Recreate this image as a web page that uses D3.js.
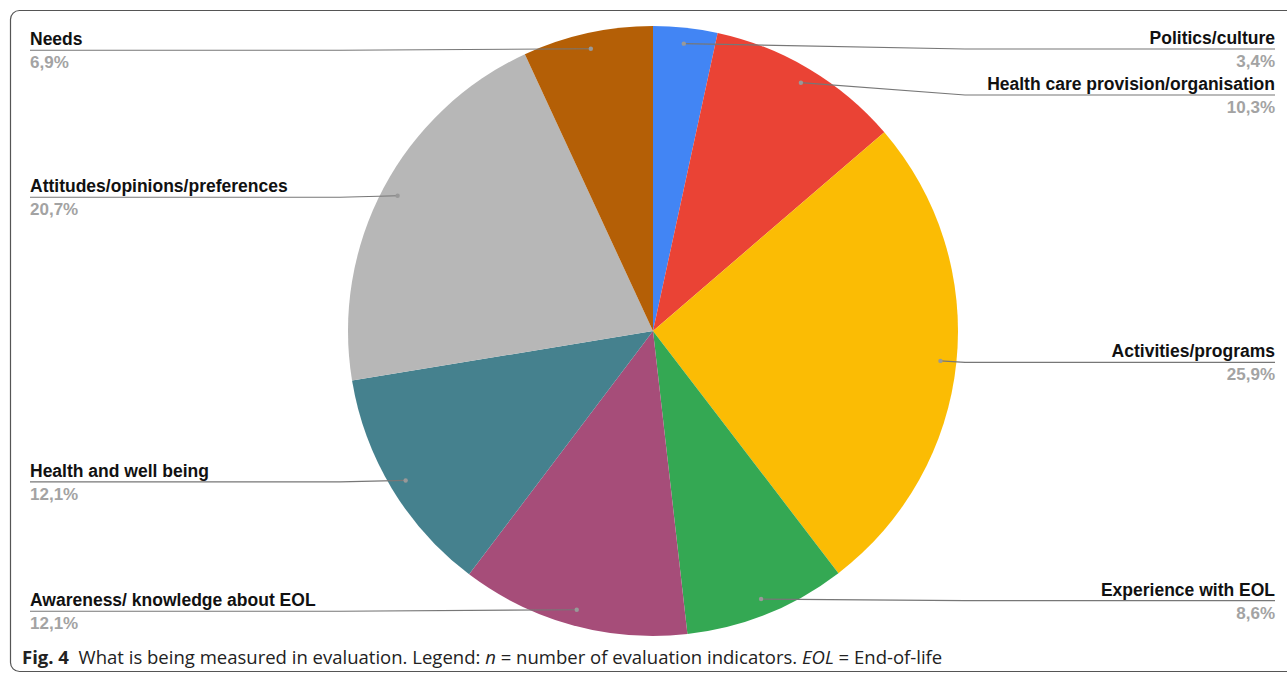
<!DOCTYPE html>
<html>
<head>
<meta charset="utf-8">
<script src="https://cdn.jsdelivr.net/npm/d3@7"></script>
<style>
  body { margin: 0; background: #fff; }
  svg { display: block; }
</style>
</head>
<body>
<svg id="chart"></svg>
<script>
// slices, clockwise from 12 o'clock
const categories = ['Politics/culture', 'Health care provision/organisation', 'Activities/programs',
  'Experience with EOL', 'Awareness/ knowledge about EOL', 'Health and well being',
  'Attitudes/opinions/preferences', 'Needs'];
const shares = [3.4, 10.3, 25.9, 8.6, 12.1, 12.1, 20.7, 6.9];
const pctLabels = ['3,4%', '10,3%', '25,9%', '8,6%', '12,1%', '12,1%', '20,7%', '6,9%'];
const colors = ['#4285f4', '#ea4335', '#fbbc04', '#34a853', '#a64d79', '#45818e', '#b7b7b7', '#b45f06'];

const W = 1287, H = 676;
const cx = 653, cy = 331, R = 305;

let svg = d3.select('#chart').attr('width', W).attr('height', H);

// frame round the figure
svg.append('rect')
  .attr('x', 10.5).attr('y', 10.5)
  .attr('width', 1295).attr('height', 661)
  .attr('rx', 9)
  .attr('fill', 'none')
  .attr('stroke', '#555')
  .attr('stroke-width', 1.2);

let data = categories.map((c, i) => ({name: c, value: shares[i], pct: pctLabels[i], color: colors[i]}));

let pie = d3.pie().value(d => d.value).sort(null);
let arc = d3.arc().innerRadius(0).outerRadius(R);
let arcs = pie(data);

let g = svg.append('g').attr('transform', `translate(${cx},${cy})`);

g.selectAll('path')
  .data(arcs)
  .enter()
  .append('path')
  .attr('d', arc)
  .attr('fill', d => d.data.color);

// label layout: dot at mid angle, label line pushed down if it would collide
const dotR = 289;
arcs.forEach(a => {
  let m = (a.startAngle + a.endAngle) / 2;
  a.dx = cx + dotR * Math.sin(m);
  a.dy = cy - dotR * Math.cos(m);
  a.side = a.dx >= cx ? 'right' : 'left';
});

['right', 'left'].forEach(side => {
  let list = arcs.filter(a => a.side === side).sort((a, b) => a.dy - b.dy);
  let prev = -Infinity;
  list.forEach(a => {
    a.ly = Math.max(a.dy + 1.5, prev + 46, 49);
    prev = a.ly;
  });
});

let lab = svg.append('g');
const labFont = '"Liberation Sans", Arial, sans-serif';

arcs.forEach(a => {
  let right = a.side === 'right';
  let edge = right ? 1275 : 30;
  let knee = right ? Math.max(a.dx, 965) : Math.min(a.dx, 340);
  lab.append('path')
    .attr('d', d3.line()([[a.dx, a.dy], [knee, a.ly], [edge, a.ly]]))
    .attr('fill', 'none')
    .attr('stroke', '#777')
    .attr('stroke-width', 1.2);
  lab.append('circle')
    .attr('cx', a.dx).attr('cy', a.dy).attr('r', 2.2)
    .attr('fill', '#999');
  lab.append('text')
    .attr('x', edge).attr('y', a.ly - 5)
    .attr('text-anchor', right ? 'end' : 'start')
    .style('font-family', labFont)
    .style('font-weight', 'bold')
    .style('font-size', '17.5px')
    .attr('fill', '#111')
    .text(a.data.name);
  lab.append('text')
    .attr('x', edge).attr('y', a.ly + 18)
    .attr('text-anchor', right ? 'end' : 'start')
    .style('font-family', labFont)
    .style('font-weight', 'bold')
    .style('font-size', '17px')
    .attr('fill', '#a3a3a3')
    .text(a.data.pct);
});

// caption, font size fitted so it ends where the reference does
let cap = svg.append('text')
  .attr('x', 22).attr('y', 664)
  .style('font-family', '"Open Sans", "Noto Sans", sans-serif')
  .style('font-size', '19px')
  .attr('fill', '#222');
cap.append('tspan').style('font-weight', 'bold').text('Fig. 4');
cap.append('tspan').text('  What is being measured in evaluation. Legend: ');
cap.append('tspan').style('font-style', 'italic').text('n');
cap.append('tspan').text(' = number of evaluation indicators. ');
cap.append('tspan').style('font-style', 'italic').text('EOL');
cap.append('tspan').text(' = End-of-life');
cap.attr('xml:space', 'preserve');
let len = cap.node().getComputedTextLength();
cap.style('font-size', (19 * 921 / len).toFixed(2) + 'px');
</script>
</body>
</html>
